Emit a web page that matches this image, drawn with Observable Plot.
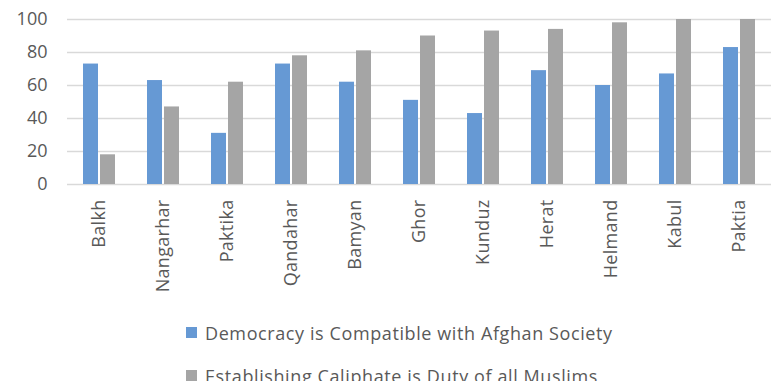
<!DOCTYPE html>
<html>
<head>
<meta charset="utf-8">
<script src="https://cdn.jsdelivr.net/npm/d3@7"></script>
<script src="https://cdn.jsdelivr.net/npm/@observablehq/plot@0.6"></script>
<style>
  body { margin: 0; background: #fff; font-family: "Open Sans", sans-serif; }
  #chart svg { display: block; }
  .legend { margin-left: 186px; padding-top: 6px; color: #595959; font-size: 18px; letter-spacing: 0.6px; }
  .legend .row { display: flex; align-items: center; height: 43px; white-space: nowrap; }
  .legend .sw { width: 11px; height: 11px; margin-right: 8px; }
</style>
</head>
<body>
<div id="chart"></div>
<div class="legend" id="legend"></div>
<script>
const provinces = ["Balkh","Nangarhar","Paktika","Qandahar","Bamyan","Ghor","Kunduz","Herat","Helmand","Kabul","Paktia"];
const democracy = [73, 63, 31, 73, 62, 51, 43, 69, 60, 67, 83];
const caliphate = [18, 47, 62, 78, 81, 90, 93, 94, 98, 100, 100];
const seriesNames = ["Democracy is Compatible with Afghan Society", "Establishing Caliphate is Duty of all Muslims"];
const colors = ["#6699d4", "#a5a5a5"];
const yTicks = [0, 20, 40, 60, 80, 100];

const dem = provinces.map((p, i) => ({province: p, value: democracy[i]}));
const cal = provinces.map((p, i) => ({province: p, value: caliphate[i]}));

const plot = Plot.plot({
  width: 773,
  height: 305,
  marginTop: 19,
  marginBottom: 121,
  marginLeft: 67,
  marginRight: 2,
  style: {fontFamily: "Open Sans, sans-serif", fontSize: "18px", color: "#595959", background: "#fff"},
  x: {domain: provinces, paddingInner: 0.5, paddingOuter: 0.25, label: null},
  y: {domain: [0, 100], label: null},
  marks: [
    Plot.ruleY(yTicks, {stroke: "#d9d9d9", strokeWidth: 1.5}),
    Plot.barY(dem, {x: "province", y: "value", fill: colors[0], insetRight: 17}),
    Plot.barY(cal, {x: "province", y: "value", fill: colors[1], insetLeft: 17}),
    Plot.axisY({ticks: yTicks, tickSize: 0, tickPadding: 20, fontSize: 18, label: null}),
    Plot.axisX({tickSize: 0, tickPadding: 15, tickRotate: -90, fontSize: 18, label: null})
  ]
});
plot.querySelectorAll("[aria-label='x-axis tick label'] text").forEach(t => t.style.letterSpacing = "0.3px");
document.getElementById("chart").appendChild(plot);

const legend = document.getElementById("legend");
seriesNames.forEach((name, i) => {
  const row = document.createElement("div");
  row.className = "row";
  const sw = document.createElement("div");
  sw.className = "sw";
  sw.style.background = colors[i];
  const t = document.createElement("span");
  t.textContent = name;
  row.appendChild(sw);
  row.appendChild(t);
  legend.appendChild(row);
});
</script>
</body>
</html>
